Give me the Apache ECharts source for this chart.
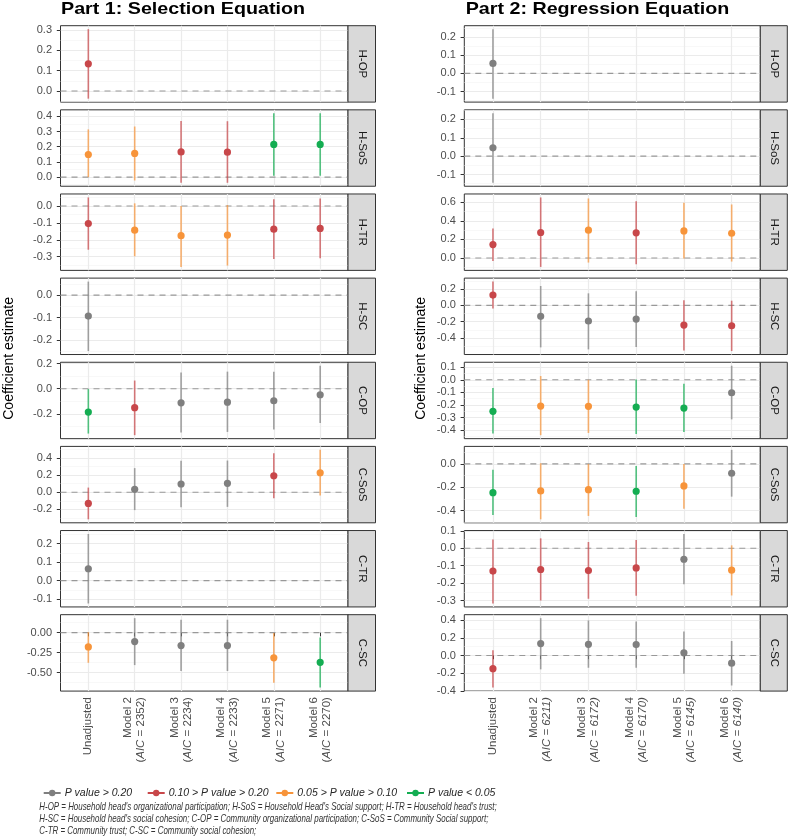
<!DOCTYPE html>
<html><head><meta charset="utf-8">
<script src="https://cdn.jsdelivr.net/npm/echarts@6/dist/echarts.min.js"></script>
<style>html,body{margin:0;padding:0;background:#fff}#chart{width:789px;height:837px}</style>
</head><body><div id="chart"></div>
<script>
// ---------------- data ----------------
const categories = ['Unadjusted', 'Model 2', 'Model 3', 'Model 4', 'Model 5', 'Model 6'];
const aicPart1 = [null, '2352', '2234', '2233', '2271', '2270'];
const aicPart2 = [null, '6211', '6172', '6170', '6145', '6140'];
const variables = ['H-OP', 'H-SoS', 'H-TR', 'H-SC', 'C-OP', 'C-SoS', 'C-TR', 'C-SC'];
const partTitles = ['Part 1: Selection Equation', 'Part 2: Regression Equation'];
const pLabels = ['P value > 0.20', '0.10 > P value > 0.20', '0.05 > P value > 0.10', 'P value < 0.05'];
const pColors = ['#7f7f7f', '#c8474a', '#f7943a', '#14ad52'];
const footnote = [
  "H-OP = Household head's organizational participation; H-SoS = Household Head's Social support; H-TR = Household head's trust;",
  "H-SC = Household head's social cohesion; C-OP = Community organizational participation; C-SoS = Community Social support;",
  "C-TR = Community trust; C-SC = Community social cohesion;"
];

// rows: [estimate, lower, upper, p-value class]
const sel_HOP = [[0.134, -0.038, 0.305, 1]];
const sel_HSoS = [[0.149, 0.000, 0.314, 2], [0.156, -0.022, 0.333, 2], [0.166, -0.037, 0.370, 1],
                  [0.164, -0.037, 0.368, 1], [0.215, 0.009, 0.420, 3], [0.215, 0.009, 0.420, 3]];
const sel_HTR = [[-0.104, -0.259, 0.051, 1], [-0.143, -0.298, 0.016, 2], [-0.176, -0.361, 0.000, 2],
                 [-0.172, -0.353, 0.006, 2], [-0.137, -0.314, 0.041, 1], [-0.133, -0.310, 0.045, 1]];
const sel_HSC = [[-0.093, -0.248, 0.060, 0]];
const sel_COP = [[-0.186, -0.357, -0.003, 3], [-0.151, -0.370, 0.065, 1], [-0.112, -0.349, 0.130, 0],
                 [-0.107, -0.344, 0.136, 0], [-0.096, -0.325, 0.136, 0], [-0.048, -0.273, 0.183, 0]];
const sel_CSoS = [[-0.131, -0.317, 0.055, 1], [0.035, -0.209, 0.283, 0], [0.097, -0.174, 0.369, 0],
                  [0.105, -0.171, 0.372, 0], [0.194, -0.070, 0.457, 1], [0.229, -0.038, 0.497, 2]];
const sel_CTR = [[0.064, -0.123, 0.251, 0]];
const sel_CSC = [[-0.178, -0.376, 0.007, 2], [-0.111, -0.405, 0.181, 0], [-0.161, -0.479, 0.161, 0],
                 [-0.161, -0.479, 0.161, 0], [-0.314, -0.624, -0.005, 2], [-0.371, -0.686, -0.062, 3]];

const reg_HOP = [[0.055, -0.139, 0.244, 0]];
const reg_HSoS = [[0.045, -0.145, 0.233, 0]];
const reg_HTR = [[0.145, -0.032, 0.318, 1], [0.275, -0.097, 0.654, 1], [0.300, -0.050, 0.643, 2],
                 [0.271, -0.068, 0.614, 1], [0.292, -0.007, 0.596, 2], [0.267, -0.039, 0.578, 2]];
const reg_HSC = [[0.126, -0.040, 0.291, 1], [-0.135, -0.515, 0.237, 0], [-0.192, -0.540, 0.147, 0],
                 [-0.168, -0.510, 0.172, 0], [-0.242, -0.552, 0.061, 1], [-0.250, -0.560, 0.057, 1]];
const reg_COP = [[-0.251, -0.428, -0.066, 3], [-0.209, -0.441, 0.030, 2], [-0.211, -0.423, 0.000, 2],
                 [-0.217, -0.431, 0.003, 3], [-0.225, -0.415, -0.031, 3], [-0.103, -0.315, 0.112, 0]];
const reg_CSoS = [[-0.246, -0.437, -0.051, 3], [-0.231, -0.474, 0.006, 2], [-0.220, -0.445, 0.000, 2],
                  [-0.234, -0.454, -0.017, 3], [-0.188, -0.383, 0.000, 2], [-0.080, -0.280, 0.120, 0]];
const reg_CTR = [[-0.131, -0.317, 0.051, 1], [-0.122, -0.300, 0.057, 1], [-0.128, -0.290, 0.036, 1],
                 [-0.113, -0.272, 0.047, 1], [-0.063, -0.206, 0.082, 0], [-0.126, -0.271, 0.017, 2]];
const reg_CSC = [[-0.150, -0.364, 0.060, 1], [0.135, -0.157, 0.423, 0], [0.127, -0.139, 0.397, 0],
                 [0.124, -0.139, 0.385, 0], [0.030, -0.207, 0.273, 0], [-0.087, -0.340, 0.164, 0]];

// y tick labels per panel
const selTicks = [
  [0.0, 0.1, 0.2, 0.3], [0.0, 0.1, 0.2, 0.3, 0.4], [-0.3, -0.2, -0.1, 0.0], [-0.2, -0.1, 0.0],
  [-0.2, 0.0, 0.2], [-0.2, 0.0, 0.2, 0.4], [-0.1, 0.0, 0.1, 0.2], [-0.50, -0.25, 0.00]
];
const regTicks = [
  [-0.1, 0.0, 0.1, 0.2], [-0.1, 0.0, 0.1, 0.2], [0.0, 0.2, 0.4, 0.6], [-0.4, -0.2, 0.0, 0.2],
  [-0.4, -0.3, -0.2, -0.1, 0.0, 0.1], [-0.4, -0.2, 0.0], [-0.3, -0.2, -0.1, 0.0, 0.1], [-0.4, -0.2, 0.0, 0.2, 0.4]
];

// ---------------- layout / styling ----------------
const selData = [sel_HOP, sel_HSoS, sel_HTR, sel_HSC, sel_COP, sel_CSoS, sel_CTR, sel_CSC];
const regData = [reg_HOP, reg_HSoS, reg_HTR, reg_HSC, reg_COP, reg_CSoS, reg_CTR, reg_CSC];
const partData = [selData, regData];
const partTicks = [selTicks, regTicks];
const partAic = [aicPart1, aicPart2];

const L = { top0: 25.7, pitch: 84.14, h: 76.4, left: [60.5, 464.3], width: [287.5, 296], strip: [27.5, 27],
            titleX: [61, 465.7], titleW: [244, 263.6], yTitleX: [9.5, 421],
            legendX: [42.7, 146.7, 275.3, 406], legendTop: 787.5 };
const BASE = "'Liberation Sans', Arial, Helvetica, sans-serif";

const mctx = document.createElement('canvas').getContext('2d');
function measure(font, txt) { mctx.font = font; return mctx.measureText(txt).width; }
const footFS = 10.5;
const footScale = 457.4 / measure('italic ' + footFS + 'px ' + BASE, footnote[0]);

function yRange(rows) {
  let lo = 0, hi = 0;
  rows.forEach(r => { lo = Math.min(lo, r[1]); hi = Math.max(hi, r[2]); });
  const pad = (hi - lo) * 0.05;
  return [lo - pad, hi + pad];
}
function yFormatter(step) {
  const d = Math.abs(step * 10 - Math.round(step * 10)) > 1e-6 ? 2 : 1;
  return v => {
    const k = v / step;
    if (Math.abs(k - Math.round(k)) > 1e-6) return '';
    return (Math.round(k) * step).toFixed(d).replace(/^-(0\.0+)$/, '$1');
  };
}
function xFormatter(part) {
  return v => {
    const r = Math.round(v);
    if (Math.abs(v - r) > 1e-6 || r < 1 || r > 6) return '';
    const i = r - 1;
    if (i === 0) return categories[0];
    const aic = partAic[part][i];
    return part === 0 ? categories[i] + '\n({it|AIC} = ' + aic + ')'
                      : categories[i] + '\n{it|(AIC = ' + aic + ')}';
  };
}
function renderItem(params, api) {
  const x = api.value(0), est = api.value(1), lo = api.value(2), hi = api.value(3);
  const c = pColors[api.value(4)];
  const a = api.coord([x, lo]), b = api.coord([x, hi]), e = api.coord([x, est]);
  return { type: 'group', children: [
    { type: 'line', shape: { x1: a[0], y1: a[1], x2: b[0], y2: b[1] }, style: { stroke: c, lineWidth: 1.6, opacity: 0.72 } },
    { type: 'circle', shape: { cx: e[0], cy: e[1], r: 3.6 }, style: { fill: c } }
  ] };
}

const grids = [], xAxes = [], yAxes = [], series = [], graphics = [];
const xVals = [1, 2, 3, 4, 5, 6];
for (let part = 0; part < 2; part++) {
  for (let row = 0; row < 8; row++) {
    const idx = part * 8 + row;
    const top = L.top0 + row * L.pitch;
    const rows = partData[part][row];
    const ticks = partTicks[part][row];
    const step = Math.round((ticks[1] - ticks[0]) * 1e6) / 1e6;
    const [ymin, ymax] = yRange(rows);
    const bottom = row === 7;
    grids.push({ left: L.left[part], top: top, width: L.width[part], height: L.h, show: true,
                 backgroundColor: '#fff', borderColor: '#333', borderWidth: 1, containLabel: false });
    xAxes.push({ type: 'value', gridIndex: idx, min: 0.4, max: 6.6, minInterval: 1, maxInterval: 1,
      axisLine: { show: false },
      axisTick: { show: bottom, customValues: xVals, length: 3.7, lineStyle: { color: '#333', width: 1 } },
      axisLabel: { show: bottom, customValues: xVals, rotate: 90, margin: 6, fontSize: 11.5, color: '#4d4d4d',
                   fontFamily: BASE, lineHeight: 13, formatter: xFormatter(part),
                   rich: { it: { fontStyle: 'italic', fontSize: 11.5, color: '#4d4d4d', fontFamily: BASE } } },
      splitLine: { show: true, lineStyle: { color: '#ebebeb', width: 1.2 } }
    });
    yAxes.push({ type: 'value', gridIndex: idx, min: ymin, max: ymax, minInterval: step, maxInterval: step,
      axisLine: { show: false },
      axisTick: { show: true, customValues: ticks, length: 3.7, lineStyle: { color: '#333', width: 1 } },
      axisLabel: { customValues: ticks, margin: 8.5, fontSize: 11, color: '#4d4d4d', fontFamily: BASE,
                   formatter: yFormatter(step) },
      splitLine: { show: true, lineStyle: { color: '#ebebeb', width: 1.1 } },
      minorTick: { show: false, splitNumber: 2 },
      minorSplitLine: { show: true, lineStyle: { color: '#f3f3f3', width: 0.6 } }
    });
    series.push({ type: 'line', xAxisIndex: idx, yAxisIndex: idx, data: [[0.4, 0], [6.6, 0]], symbol: 'none',
                  silent: true, z: 2, lineStyle: { color: '#999', width: 1.1, type: [6, 5] } });
    series.push({ type: 'custom', xAxisIndex: idx, yAxisIndex: idx, z: 3, renderItem: renderItem,
                  encode: { x: 0, y: [1, 2, 3] },
                  data: rows.map((r, i) => [i + 1, r[0], r[1], r[2], r[3]]) });
    const sx = L.left[part] + L.width[part];
    graphics.push({ type: 'rect', shape: { x: sx, y: top, width: L.strip[part], height: L.h },
                    style: { fill: '#d9d9d9', stroke: '#333', lineWidth: 1 }, z: 10 });
    graphics.push({ type: 'text', x: sx + L.strip[part] / 2, y: top + L.h / 2, rotation: -Math.PI / 2, z: 11,
                    style: { text: variables[row], fill: '#1a1a1a', fontSize: 11.5, fontFamily: BASE,
                             align: 'center', verticalAlign: 'middle' } });
  }
}
// legend dummy series
pLabels.forEach((name, k) => series.push({ type: 'line', name: name, xAxisIndex: 0, yAxisIndex: 0, data: [],
  symbol: 'circle', symbolSize: 7, itemStyle: { color: pColors[k] }, lineStyle: { color: pColors[k], width: 1.6 } }));

// titles
for (let part = 0; part < 2; part++) {
  const sc = L.titleW[part] / measure('bold 17px ' + BASE, partTitles[part]);
  graphics.push({ type: 'text', x: L.titleX[part], y: 8.9, scaleX: sc, z: 11,
                  style: { text: partTitles[part], fill: '#000', fontSize: 17, fontWeight: 'bold', fontFamily: BASE,
                           align: 'left', verticalAlign: 'middle' } });
  graphics.push({ type: 'text', x: L.yTitleX[part], y: L.top0 + (7 * L.pitch + L.h) / 2, rotation: Math.PI / 2, z: 11,
                  style: { text: 'Coefficient estimate', fill: '#000', fontSize: 14, fontFamily: BASE,
                           align: 'center', verticalAlign: 'middle' } });
}
graphics.push({ type: 'text', x: 39.3, y: 801.5, scaleX: footScale, z: 11,
                style: { text: footnote.join('\n'), fill: '#333', fontSize: footFS, fontStyle: 'italic',
                         fontFamily: BASE, lineHeight: 11.8, align: 'left', verticalAlign: 'top' } });

const legends = pLabels.map((name, k) => ({
  data: [name], left: L.legendX[k], top: L.legendTop, itemWidth: 17, itemHeight: 8, padding: 0,
  textStyle: { fontStyle: 'italic', fontSize: 10.5, fontFamily: BASE, color: '#262626', padding: [0, 0, 0, -1] }
}));

const chart = echarts.init(document.getElementById('chart'), null, { renderer: 'canvas' });
chart.setOption({
  animation: false,
  backgroundColor: '#fff',
  textStyle: { fontFamily: BASE },
  grid: grids, xAxis: xAxes, yAxis: yAxes, series: series, graphic: graphics,
  legend: legends
});
</script></body></html>
